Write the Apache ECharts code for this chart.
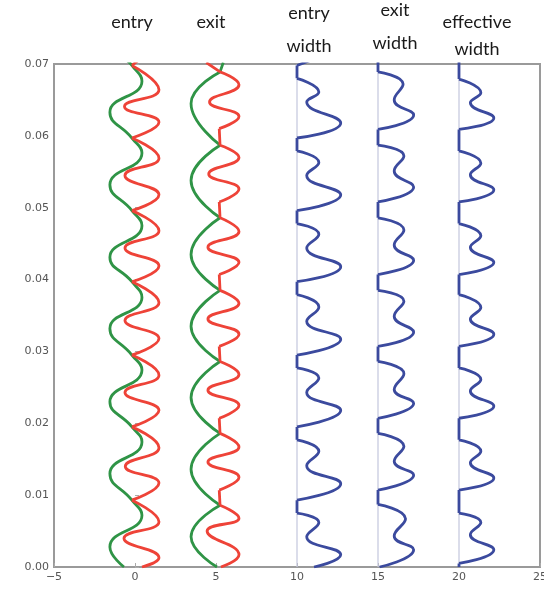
<!DOCTYPE html>
<html>
<head>
<meta charset="utf-8">
<script src="https://cdn.jsdelivr.net/npm/echarts@6/dist/echarts.min.js"></script>
<style>
  html, body { margin: 0; padding: 0; background: #fff; }
  #chart { width: 544px; height: 589px; }
</style>
</head>
<body>
<div id="chart"></div>
<script>
// axis ranges and column headings
const xRange = [-5, 25]
const yRange = [0, 0.07]
const columnTitles = ['entry', 'exit', 'entry\nwidth', 'exit\nwidth', 'effective\nwidth']
const referenceX = [10, 15, 20]

// entry profiles (x, position)
const entryGreen = [[
  [-0.68, 0], [-1.55, 0.0028], [0.43, 0.0072], [-0.19, 0.0093],
  [-1.55, 0.0130], [0.43, 0.0174], [-0.19, 0.0195],
  [-1.55, 0.0230], [0.43, 0.0274], [-0.19, 0.0295],
  [-1.55, 0.0332], [0.43, 0.0375], [-0.19, 0.0397],
  [-1.55, 0.0431], [0.43, 0.0475], [-0.19, 0.0496],
  [-1.55, 0.0532], [0.43, 0.0576], [-0.19, 0.0597],
  [-1.55, 0.0633], [0.43, 0.0676], [-0.19, 0.0698], [-0.5, 0.0705],
]]
const entryRed = [
  [[0.43, 0], [1.48, 0.0013], [-0.68, 0.0040], [1.48, 0.0063], [-0.19, 0.0093]],
  [[-0.19, 0.0093], [1.48, 0.0117], [-0.60, 0.0140], [1.48, 0.0166], [-0.19, 0.0195]],
  [[-0.19, 0.0195], [1.48, 0.0218], [-0.62, 0.0243], [1.48, 0.0267], [-0.19, 0.0295]],
  [[-0.19, 0.0295], [1.48, 0.0318], [-0.62, 0.0343], [1.48, 0.0368], [-0.19, 0.0397]],
  [[-0.19, 0.0397], [1.48, 0.0419], [-0.62, 0.0444], [1.48, 0.0468], [-0.19, 0.0496]],
  [[-0.19, 0.0496], [1.48, 0.0518], [-0.62, 0.0545], [1.48, 0.0569], [-0.19, 0.0597]],
  [[-0.19, 0.0597], [1.48, 0.0619], [-0.65, 0.0641], [1.48, 0.0664], [-0.19, 0.0698]],
  [[-0.19, 0.0698], [0.2, 0.0705]],
]

// exit profiles
const exitGreen = [
  [[5.06, 0], [3.46, 0.0042], [5.25, 0.0086]],
  [[5.25, 0.0086], [3.46, 0.0136], [5.25, 0.0186]],
  [[5.25, 0.0186], [3.46, 0.0236], [5.25, 0.0286]],
  [[5.25, 0.0286], [3.46, 0.0335], [5.25, 0.0385]],
  [[5.25, 0.0385], [3.46, 0.0435], [5.25, 0.0486]],
  [[5.25, 0.0486], [3.46, 0.0538], [5.25, 0.0587]],
  [[5.25, 0.0587], [3.46, 0.0645], [5.25, 0.0689]],
  [[5.25, 0.0689], [5.45, 0.0702]],
]
const exitRed = [
  [[5.3, 0], [6.42, 0.0017], [4.45, 0.0050], [6.42, 0.0068], [5.25, 0.0086]],
  [[5.25, 0.0086], [5.2, 0.0107]],
  [[5.2, 0.0107], [6.42, 0.0125], [4.5, 0.0146], [6.42, 0.0167], [5.25, 0.0186]],
  [[5.25, 0.0186], [5.2, 0.0207]],
  [[5.2, 0.0207], [6.42, 0.0225], [4.5, 0.0246], [6.42, 0.0268], [5.25, 0.0286]],
  [[5.25, 0.0286], [5.2, 0.0307]],
  [[5.2, 0.0307], [6.42, 0.0324], [4.5, 0.0345], [6.42, 0.0367], [5.25, 0.0385]],
  [[5.25, 0.0385], [5.2, 0.0407]],
  [[5.2, 0.0407], [6.42, 0.0424], [4.5, 0.0445], [6.42, 0.0467], [5.25, 0.0486]],
  [[5.25, 0.0486], [5.2, 0.0508]],
  [[5.2, 0.0508], [6.42, 0.0526], [4.55, 0.0547], [6.42, 0.0570], [5.25, 0.0587]],
  [[5.25, 0.0587], [5.2, 0.0610]],
  [[5.2, 0.0610], [6.42, 0.0627], [4.6, 0.0647], [6.42, 0.0671], [5.25, 0.0689]],
  [[5.25, 0.0689], [4.4, 0.0702]],
]

// widths, drawn offset at 10 / 15 / 20
const entryWidth = [
  [[11.05, 0], [12.7, 0.0017], [10.6, 0.0042], [11.35, 0.0062], [10, 0.0075]],
  [[10, 0.0075], [10, 0.0093]],
  [[10, 0.0093], [12.7, 0.0116], [10.6, 0.0141], [11.35, 0.0161], [10, 0.0177]],
  [[10, 0.0177], [10, 0.0195]],
  [[10, 0.0195], [12.7, 0.0218], [10.6, 0.0243], [11.35, 0.0263], [10, 0.0277]],
  [[10, 0.0277], [10, 0.0295]],
  [[10, 0.0295], [12.7, 0.0317], [10.6, 0.0342], [11.35, 0.0362], [10, 0.0379]],
  [[10, 0.0379], [10, 0.0397]],
  [[10, 0.0397], [12.7, 0.0418], [10.6, 0.0444], [11.35, 0.0463], [10, 0.0478]],
  [[10, 0.0478], [10, 0.0496]],
  [[10, 0.0496], [12.7, 0.0518], [10.6, 0.0545], [11.35, 0.0563], [10, 0.0579]],
  [[10, 0.0579], [10, 0.0597]],
  [[10, 0.0597], [12.7, 0.0618], [10.6, 0.0647], [11.35, 0.0661], [10, 0.0680]],
  [[10, 0.0680], [10, 0.0698]],
  [[10, 0.0698], [12.7, 0.0721]],
]
const exitWidth = [
  [[15.1, 0], [17.2, 0.0024], [16.0, 0.0043], [16.7, 0.0067], [15, 0.0087]],
  [[15, 0.0087], [15, 0.0107]],
  [[15, 0.0107], [17.2, 0.0128], [16.0, 0.0147], [16.6, 0.0168], [15, 0.0186]],
  [[15, 0.0186], [15, 0.0207]],
  [[15, 0.0207], [17.2, 0.0228], [16.0, 0.0247], [16.6, 0.0269], [15, 0.0286]],
  [[15, 0.0286], [15, 0.0307]],
  [[15, 0.0307], [17.2, 0.0327], [16.0, 0.0349], [16.6, 0.0370], [15, 0.0385]],
  [[15, 0.0385], [15, 0.0407]],
  [[15, 0.0407], [17.2, 0.0427], [16.0, 0.0448], [16.6, 0.0469], [15, 0.0486]],
  [[15, 0.0486], [15, 0.0508]],
  [[15, 0.0508], [17.2, 0.0529], [16.0, 0.0551], [16.6, 0.0572], [15, 0.0587]],
  [[15, 0.0587], [15, 0.0609]],
  [[15, 0.0609], [17.2, 0.0629], [16.0, 0.0650], [16.55, 0.0672], [15, 0.0689]],
  [[15, 0.0689], [15, 0.0710]],
]
const effectiveWidth = [
  [[20, 0], [20, 0.0005]],
  [[20, 0.0005], [22.15, 0.0024], [20.7, 0.0045], [21.35, 0.0062], [20, 0.0075]],
  [[20, 0.0075], [20, 0.0107]],
  [[20, 0.0107], [22.15, 0.0124], [20.7, 0.0145], [21.35, 0.0161], [20, 0.0177]],
  [[20, 0.0177], [20, 0.0207]],
  [[20, 0.0207], [22.15, 0.0224], [20.7, 0.0245], [21.35, 0.0261], [20, 0.0277]],
  [[20, 0.0277], [20, 0.0307]],
  [[20, 0.0307], [22.15, 0.0324], [20.7, 0.0345], [21.35, 0.0361], [20, 0.0379]],
  [[20, 0.0379], [20, 0.0407]],
  [[20, 0.0407], [22.15, 0.0424], [20.7, 0.0445], [21.35, 0.0461], [20, 0.0478]],
  [[20, 0.0478], [20, 0.0508]],
  [[20, 0.0508], [22.15, 0.0525], [20.7, 0.0546], [21.35, 0.0562], [20, 0.0579]],
  [[20, 0.0579], [20, 0.0609]],
  [[20, 0.0609], [22.15, 0.0625], [20.7, 0.0646], [21.35, 0.0660], [20, 0.0679]],
  [[20, 0.0679], [20, 0.0710]],
]

// heading layout (pixels)
const titleCenterX = [132, 211, 309, 395, 477]
const titleBaseline = [28, 28, 19, 16, 28]
const titleLineGap = [0, 0, 33, 33, 27]

const GREEN = '#2f9446'
const RED = '#ee4338'
const BLUE = '#3b4a9e'

// segments are separated by empty points so each piece is smoothed on its own
const joinSegments = (segments) => {
  const out = []
  segments.forEach((seg, i) => {
    if (i > 0) out.push(['-', '-'])
    seg.forEach((p) => out.push(p))
  })
  return out
}

const curve = (name, segments, color) => ({
  name,
  type: 'line',
  data: joinSegments(segments),
  smooth: 0.5,
  showSymbol: false,
  connectNulls: false,
  silent: true,
  lineStyle: { color, width: 2.8 },
  itemStyle: { color },
})

const titleGraphics = []
columnTitles.forEach((t, i) => {
  t.split('\n').forEach((line, j) => {
    titleGraphics.push({
      type: 'text',
      x: titleCenterX[i],
      y: titleBaseline[i] + j * titleLineGap[i] - 6,
      style: {
        text: line,
        align: 'center',
        verticalAlign: 'middle',
        font: '18px Lato',
        fill: '#1a1a1a',
      },
    })
  })
})

const chart = echarts.init(document.getElementById('chart'))
chart.setOption({
  animation: false,
  grid: {
    left: 54,
    right: 4,
    top: 64,
    bottom: 22,
    outerBoundsMode: 'none',
    containLabel: false,
    show: true,
    borderColor: '#9a9a9a',
    borderWidth: 2,
  },
  xAxis: {
    type: 'value',
    min: xRange[0],
    max: xRange[1],
    interval: 5,
    axisLine: { show: false },
    axisTick: { inside: true, length: 4, lineStyle: { color: '#aaa' } },
    axisLabel: {
      color: '#555',
      fontSize: 11,
      fontFamily: 'DejaVu Sans',
      margin: 5,
      formatter: (v) => String(v).replace('-', '\u2212'),
    },
    splitLine: { show: false },
  },
  yAxis: {
    type: 'value',
    min: yRange[0],
    max: yRange[1],
    interval: 0.01,
    axisLine: { show: false },
    axisTick: { inside: true, length: 4, lineStyle: { color: '#aaa' } },
    axisLabel: {
      color: '#555',
      fontSize: 11,
      fontFamily: 'DejaVu Sans',
      margin: 5,
      formatter: (v) => v.toFixed(2),
    },
    splitLine: { show: false },
  },
  graphic: titleGraphics,
  series: [
    {
      name: 'reference',
      type: 'line',
      data: joinSegments(referenceX.map((x) => [[x, yRange[0]], [x, yRange[1]]])),
      showSymbol: false,
      silent: true,
      lineStyle: { color: '#c3c6dd', width: 1.2 },
    },
    curve('entry width', entryWidth, BLUE),
    curve('exit width', exitWidth, BLUE),
    curve('effective width', effectiveWidth, BLUE),
    curve('entry lower', entryGreen, GREEN),
    curve('exit lower', exitGreen, GREEN),
    curve('entry upper', entryRed, RED),
    curve('exit upper', exitRed, RED),
  ],
})

window.addEventListener('resize', () => {
  chart.resize()
})
</script>
</body>
</html>
